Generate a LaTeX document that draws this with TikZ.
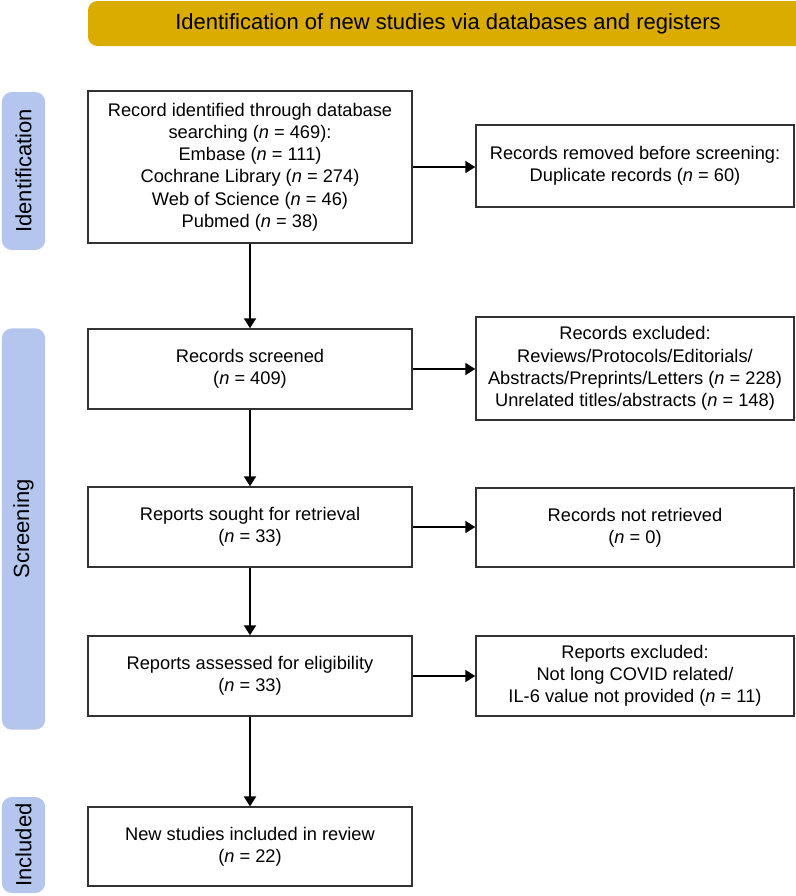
\documentclass[tikz,border=0pt]{standalone}
\usepackage{fontspec}
\setmainfont{Liberation Sans}
\usetikzlibrary{arrows.meta}
\definecolor{hdrcol}{RGB}{218,172,0}
\definecolor{pillcol}{RGB}{180,198,238}
\definecolor{boxline}{RGB}{50,50,50}
\tikzset{
  stagebox/.style={draw=boxline, line width=1.1pt, fill=white, inner sep=0pt, align=center,
    font=\fontsize{13.7pt}{16.65pt}\selectfont},
  pill/.style={fill=pillcol, rounded corners=7.5pt, rotate=90, inner sep=0pt,
    minimum height=32.5pt, font=\fontsize{16.5pt}{19pt}\selectfont},
  flow/.style={line width=1.5pt, -{Triangle[length=7.5pt,width=9pt]}},
}
\begin{document}
\begin{tikzpicture}[x=0.75pt,y=-0.75pt]
\useasboundingbox (0,0) rectangle (796,896);
% header
\begin{scope}
\clip (0,0) rectangle (796,896);
\fill[hdrcol, rounded corners=7pt] (88,1) rectangle (830,46);
\end{scope}
\node[font=\fontsize{16.5pt}{19pt}\selectfont] (hdr) at (448,23.5) {Identification of new studies via databases and registers};
% side pills
\node[pill, minimum width=118.5pt] (pid) at (23.5,171) {Identification};
\node[pill, minimum width=301pt] (pscr) at (23.5,529) {Screening};
\node[pill, minimum width=72pt] (pinc) at (23.5,845) {Included};
% left boxes
\node[stagebox, minimum width=243pt, minimum height=114pt] (b1) at (250,167)
 {Record identified through database\\searching (\textit{n} = 469):\\Embase (\textit{n} = 111)\\Cochrane Library (\textit{n} = 274)\\Web of Science (\textit{n} = 46)\\Pubmed (\textit{n} = 38)};
\node[stagebox, minimum width=243pt, minimum height=60pt] (b2) at (250,369)
 {Records screened\\(\textit{n} = 409)};
\node[stagebox, minimum width=243pt, minimum height=60pt] (b3) at (250,527)
 {Reports sought for retrieval\\(\textit{n} = 33)};
\node[stagebox, minimum width=243pt, minimum height=60pt] (b4) at (250,676)
 {Reports assessed for eligibility\\(\textit{n} = 33)};
\node[stagebox, minimum width=243pt, minimum height=59pt] (b5) at (250,846.5)
 {New studies included in review\\(\textit{n} = 22)};
% right boxes
\node[stagebox, minimum width=238.5pt, minimum height=61.5pt] (r1) at (635,166)
 {Records removed before screening:\\Duplicate records (\textit{n} = 60)};
\node[stagebox, minimum width=238.5pt, minimum height=77pt] (r2) at (635,368.5)
 {Records excluded:\\Reviews/Protocols/Editorials/\\Abstracts/Preprints/Letters (\textit{n} = 228)\\Unrelated titles/abstracts (\textit{n} = 148)};
\node[stagebox, minimum width=238.5pt, minimum height=59pt] (r3) at (635,527.5)
 {Records not retrieved\\(\textit{n} = 0)};
\node[stagebox, minimum width=238.5pt, minimum height=60pt] (r4) at (635,676)
 {Reports excluded:\\Not long COVID related/\\IL-6 value not provided (\textit{n} = 11)};
% connectors
\draw[flow] (b1) -- (b2);
\draw[flow] (b2) -- (b3);
\draw[flow] (b3) -- (b4);
\draw[flow] (b4) -- (b5);
\draw[flow] (b1.east) -- (b1.east -| r1.west);
\draw[flow] (b2.east) -- (b2.east -| r2.west);
\draw[flow] (b3.east) -- (b3.east -| r3.west);
\draw[flow] (b4.east) -- (b4.east -| r4.west);
\end{tikzpicture}
\end{document}
